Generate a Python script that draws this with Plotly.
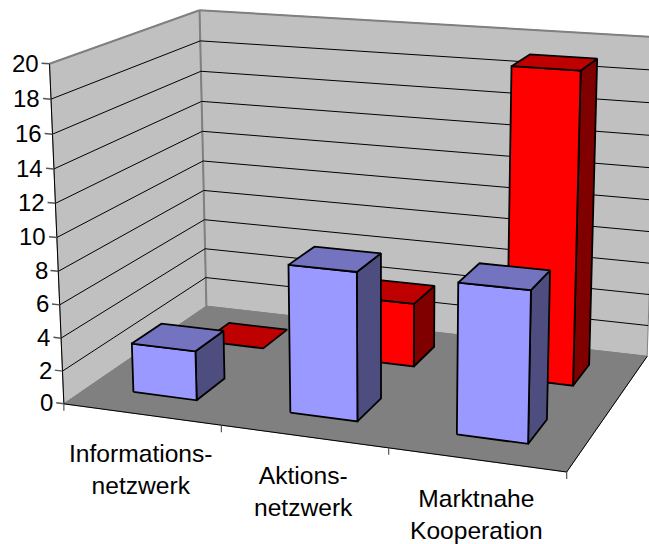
import numpy as np
import plotly.graph_objects as go

# ---- data ----
categories = ["Informations-<br>netzwerk", "Aktions-<br>netzwerk", "Marktnahe<br>Kooperation"]
blue_values = [3, 8.8, 8.8]
red_values = [0, 4, 19]
z_ticks = list(range(0, 21, 2))

# ---- view calibration: (category, depth, value) -> pixel of the reference's 3-D view ----
CAL = [
    ((0, 0, 0), (63, 404)), ((1, 0, 0), (222, 426)), ((2, 0, 0), (388, 448)), ((3, 0, 0), (567, 471)),
    ((0, 0, 20), (50, 64)), ((0, 0, 10), (57, 237)),
    ((0, 1, 0), (207, 305)), ((0, 1, 20), (199, 10)), ((0, 1, 10), (203, 162)),
    ((3, 1, 0), (647, 357)), ((3, 1, 20), (658, 37)),
]
A = []
for (X, Y, Z), (u, v) in CAL:
    Z2 = Z / 20
    A.append([X, Y, Z2, 1, 0, 0, 0, 0, -u * X, -u * Y, -u * Z2, -u])
    A.append([0, 0, 0, 0, X, Y, Z2, 1, -v * X, -v * Y, -v * Z2, -v])
P = np.linalg.svd(np.array(A, float))[2][-1].reshape(3, 4)


def proj(X, Y, Z):
    h = P @ np.array([X, Y, Z / 20, 1.0])
    return h[0] / h[2], h[1] / h[2]


fig = go.Figure()


def poly(pts, fill, line="black", width=1.8):
    xy = [proj(*p) for p in pts] + [proj(*pts[0])]
    fig.add_trace(go.Scatter(x=[a for a, _ in xy], y=[b for _, b in xy], mode="lines", fill="toself",
                             fillcolor=fill, line=dict(color=line, width=width), hoverinfo="skip",
                             showlegend=False))


def seg(p, q, color="black", width=1.0):
    a, b = proj(*p), proj(*q)
    fig.add_trace(go.Scatter(x=[a[0], b[0]], y=[a[1], b[1]], mode="lines", line=dict(color=color, width=width),
                             hoverinfo="skip", showlegend=False))


WALL, FLOOR, EDGE = "#C0C0C0", "#808080", "#808080"
poly([(0, 0, 0), (0, 1, 0), (0, 1, 20), (0, 0, 20)], WALL, EDGE, 1)
poly([(0, 1, 0), (3, 1, 0), (3, 1, 20), (0, 1, 20)], WALL, EDGE, 1)
poly([(0, 0, 0), (3, 0, 0), (3, 1, 0), (0, 1, 0)], FLOOR, EDGE, 1)
seg((0, 1, 0), (0, 1, 20), EDGE, 2)
seg((0, 0, 20), (0, 1, 20), EDGE, 2)
seg((0, 1, 20), (3, 1, 20), EDGE, 2)
for z in z_ticks[1:-1]:
    seg((0, 0, z), (0, 1, z))
    seg((0, 1, z), (3, 1, z))
seg((0, 0, 0), (3, 0, 0))
seg((3, 0, 0), (3, 1, 0))
seg((0, 0, 0), (0, 0, 20))


def bar(cat, y0, y1, val, front, top, side):
    x0, x1 = cat + 0.29, cat + 0.70
    if val > 0:
        poly([(x1, y0, 0), (x1, y1, 0), (x1, y1, val), (x1, y0, val)], side)
        poly([(x0, y0, 0), (x1, y0, 0), (x1, y0, val), (x0, y0, val)], front)
    poly([(x0, y0, val), (x1, y0, val), (x1, y1, val), (x0, y1, val)], top)


for i, v in enumerate(red_values):
    bar(i, 0.66, 0.86, v, "#FF0000", "#BF0000", "#800000")
for i, v in enumerate(blue_values):
    bar(i, 0.16, 0.36, v, "#9999FF", "#7373BF", "#4D4D80")

tick_font = dict(family="Liberation Sans, Arial, sans-serif", size=24, color="black")
cat_font = dict(family="Liberation Sans, Arial, sans-serif", size=24.6, color="black")
annotations = []
for z in z_ticks:
    seg((0, 0, z), (-0.05, 0, z), "#555555", 1.5)
    px, py = proj(-0.05, 0, z)
    annotations.append(dict(x=px - 1, y=py, text=str(z), xref="x", yref="y", showarrow=False,
                            xanchor="right", yanchor="middle", font=tick_font))
for i in range(4):
    a = proj(i, 0, 0)
    fig.add_trace(go.Scatter(x=[a[0], a[0]], y=[a[1], a[1] + 7], mode="lines",
                             line=dict(color="#555555", width=1.2), hoverinfo="skip", showlegend=False))
for i, c in enumerate(categories):
    mx, my = proj(i + 0.5, 0, 0)
    annotations.append(dict(x=mx, y=my + 55, text=c, xref="x", yref="y", showarrow=False,
                            xanchor="center", yanchor="middle", font=cat_font))

fig.update_layout(width=649, height=544, margin=dict(l=0, r=0, t=0, b=0), paper_bgcolor="white",
                  plot_bgcolor="white", annotations=annotations, showlegend=False,
                  xaxis=dict(range=[0, 649], visible=False, fixedrange=True),
                  yaxis=dict(range=[544, 0], visible=False, fixedrange=True))
fig.write_html("out.html", config=dict(displayModeBar=False),
               post_script="document.body.style.margin='0';document.body.style.overflow='hidden';")
